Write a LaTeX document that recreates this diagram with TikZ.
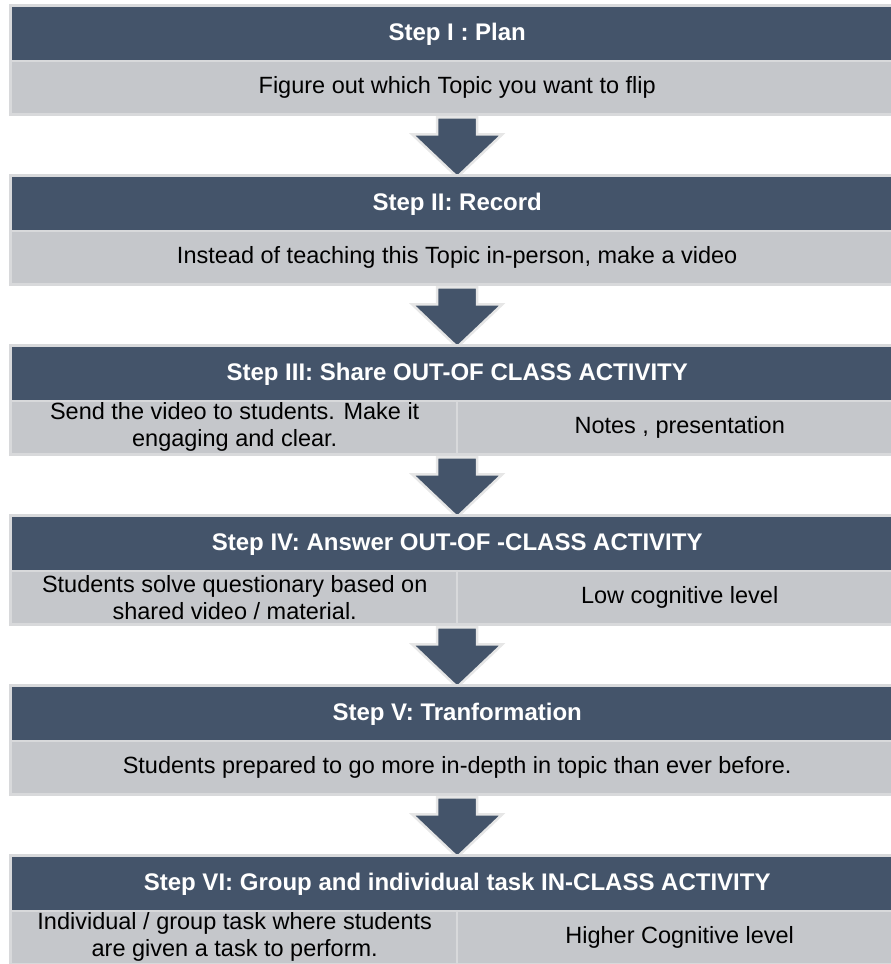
\documentclass[tikz,border=0pt]{standalone}
\usepackage{fontspec}
\setmainfont{Liberation Sans}
\usetikzlibrary{calc,backgrounds}
\definecolor{hdark}{HTML}{44546A}
\definecolor{rowgray}{HTML}{C5C7CB}
\definecolor{framegray}{HTML}{D8D9DB}
\definecolor{edgegray}{HTML}{E6E6E6}
\tikzset{
  frame/.style={fill=framegray, draw=none, anchor=north west, minimum width=896pt, minimum height=112pt, inner sep=0pt},
  hdr/.style={fill=hdark, text=white, anchor=north west, minimum width=890pt, minimum height=54pt, inner sep=0pt,
     font=\bfseries\fontsize{24}{28}\selectfont},
  bodyrow/.style={fill=rowgray, text=black, anchor=north west, minimum width=890pt, minimum height=52pt, inner sep=0pt,
     font=\fontsize{23.5}{27}\selectfont, align=center},
  cell/.style={fill=rowgray, text=black, anchor=north west, minimum width=445pt, minimum height=52pt, inner sep=0pt,
     font=\fontsize{23.5}{27}\selectfont, align=center},
  divider/.style={draw=framegray, line width=2pt},
  seam/.style={draw=framegray, line width=1.2pt},
  blockarrow/.style={fill=hdark, draw=edgegray, line width=2.5pt, line join=miter}
}
\begin{document}
\begin{tikzpicture}[x=1pt,y=-1pt]
\useasboundingbox (0,0) rectangle (891,964);
\clip (0,0) rectangle (891,964);

% Block 1
\node[frame] (f1) at (9,4) {};
\node[hdr] (h1) at (12,7) {Step I : Plan};
\node[bodyrow] (b1) at (12,61) {Figure out which Topic you want to flip};
\draw[seam] (b1.north west) -- (b1.north east);

% Block 2
\node[frame] (f2) at (9,174) {};
\node[hdr] (h2) at (12,177) {Step II: Record};
\node[bodyrow] (b2) at (12,231) {Instead of teaching this Topic in-person, make a video};
\draw[seam] (b2.north west) -- (b2.north east);

% Block 3
\node[frame] (f3) at (9,344) {};
\node[hdr] (h3) at (12,347) {Step III: Share OUT-OF CLASS ACTIVITY};
\node[cell] (l3) at (12,401) {Send the video to students. Make it\\engaging and clear.};
\node[cell] (r3) at (457,401) {Notes , presentation};
\draw[seam] (l3.north west) -- (r3.north east);
\draw[divider] (r3.north west) -- (r3.south west);

% Block 4
\node[frame] (f4) at (9,514) {};
\node[hdr] (h4) at (12,517) {Step IV: Answer OUT-OF -CLASS ACTIVITY};
\node[cell] (l4) at (12,571) {Students solve questionary based on\\shared video / material.};
\node[cell] (r4) at (457,571) {Low cognitive level};
\draw[seam] (l4.north west) -- (r4.north east);
\draw[divider] (r4.north west) -- (r4.south west);

% Block 5
\node[frame] (f5) at (9,684) {};
\node[hdr] (h5) at (12,687) {Step V: Tranformation};
\node[bodyrow] (b5) at (12,741) {Students prepared to go more in-depth in topic than ever before.};
\draw[seam] (b5.north west) -- (b5.north east);

% Block 6
\node[frame] (f6) at (9,854) {};
\node[hdr] (h6) at (12,857) {Step VI: Group and individual task IN-CLASS ACTIVITY};
\node[cell] (l6) at (12,911) {Individual / group task where students\\are given a task to perform.};
\node[cell] (r6) at (457,911) {Higher Cognitive level};
\draw[seam] (l6.north west) -- (r6.north east);
\draw[divider] (r6.north west) -- (r6.south west);

% Arrows
\begin{pgfonlayer}{background}
\foreach \a/\b in {f1/h2, f2/h3, f3/h4, f4/h5, f5/h6}{
  \draw[blockarrow]
    ($(\a.south)+(-20,1)$) -- ($(\a.south)+(20,1)$) -- ($(\a.south)+(20,18)$) --
    ($(\a.south)+(45,18)$) -- (\b.north) -- ($(\a.south)+(-45,18)$) --
    ($(\a.south)+(-20,18)$) -- cycle;
}
\end{pgfonlayer}
\end{tikzpicture}
\end{document}
